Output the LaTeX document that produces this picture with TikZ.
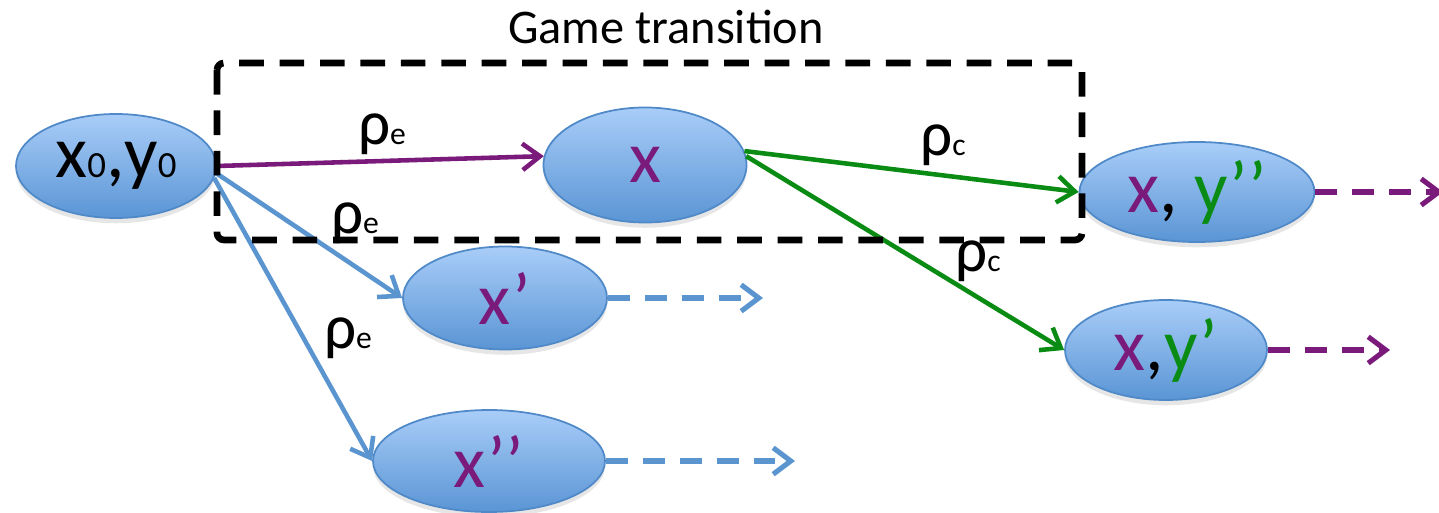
\documentclass[tikz,border=0pt]{standalone}
\usepackage{fontspec}
\setmainfont{Carlito}
\usetikzlibrary{positioning,arrows.meta,shapes.geometric,shadows}
\definecolor{gtpurple}{HTML}{7A1A7A}
\definecolor{gtgreen}{HTML}{0A8C14}
\definecolor{gtblue}{HTML}{5B95CF}
\definecolor{celltop}{HTML}{A9CDF8}
\definecolor{cellbot}{HTML}{5A95D5}
\definecolor{celledge}{HTML}{5089C8}
\newcommand{\idx}[1]{{\fontsize{21}{21}\selectfont #1}}
\newcommand{\ridx}[1]{{\fontsize{18}{18}\selectfont #1}}

\begin{document}
\begin{tikzpicture}[
    state/.style={ellipse, draw=celledge, line width=1pt, top color=celltop, bottom color=cellbot,
      minimum width=4.05cm, minimum height=2.05cm, inner sep=0pt, text=gtpurple,
      font=\fontsize{42}{42}\selectfont,
      drop shadow={opacity=0.2, shadow xshift=0pt, shadow yshift=-3pt}},
    move/.style={line width=2.6pt, -{Straight Barb[length=10pt,width=15pt]}},
    later/.style={move, line width=2.9pt, dash pattern=on 12.5pt off 8.5pt},
    rate/.style={font=\fontsize{36}{36}\selectfont}]
  \useasboundingbox (0,0) rectangle (28.78,10.24);

  % states
  \node[state, text=black, minimum width=4cm, minimum height=2.08cm] (start) at (2.32,6.92) {x\idx{0},y\idx{0}};
  \node[state, minimum width=4.06cm, minimum height=2.3cm] (x) at (12.9,6.94) {x};
  \node[state, minimum width=4.7cm, minimum height=2cm] (xy2) at (23.94,6.4) {x{\color{black},} {\color{gtgreen}y’’}};
  \node[state, minimum width=4.04cm, minimum height=2cm] (xy1) at (23.32,3.24) {x{\color{black},}{\color{gtgreen}y’}};
  \node[state, minimum width=4.08cm, minimum height=2.06cm] (xp) at (10.1,4.28) {x’};
  \node[state, minimum width=4.64cm, minimum height=2.04cm] (xpp) at (9.78,1.02) {x’’};

  % environment moves
  \draw[move, gtpurple] (start.east) -- (x.175);
  \draw[move, gtblue] (start.-4) -- (xp.west);
  \draw[move, gtblue] (start.-7) -- (xpp.west);
  \node[rate] (re1) at (7.64,7.56) {ρ\ridx{e}};
  \node[rate] (re2) at (7.1,5.78) {ρ\ridx{e}};
  \node[rate] (re3) at (6.96,3.48) {ρ\ridx{e}};

  % controller moves
  \draw[move, gtgreen] (x.8) -- (xy2.west);
  \draw[move, gtgreen] (x.5) -- (xy1.west);
  \node[rate] (rc1) at (18.86,7.34) {ρ\ridx{c}};
  \node[rate] (rc2) at (19.56,5.02) {ρ\ridx{c}};

  % continuations
  \coordinate (go2) at (28.86,6.4);
  \coordinate (go1) at (27.8,3.24);
  \coordinate (gop) at (15.26,4.28);
  \coordinate (gopp) at (15.9,1.02);
  \draw[later, gtpurple] (xy2.east) -- (go2);
  \draw[later, gtpurple] (xy1.east) -- (go1);
  \draw[later, gtblue] (xp.east) -- (gop);
  \draw[later, gtblue] (xpp.east) -- (gopp);

  % one round of the game
  \draw[line width=3.8pt, dash pattern=on 14pt off 9pt, rounded corners=4pt] (4.34,8.98) rectangle (21.64,5.44);
  \node[font=\fontsize{27.5}{27.5}\selectfont] (title) at (13.32,9.7) {Game transition};
\end{tikzpicture}
\end{document}
